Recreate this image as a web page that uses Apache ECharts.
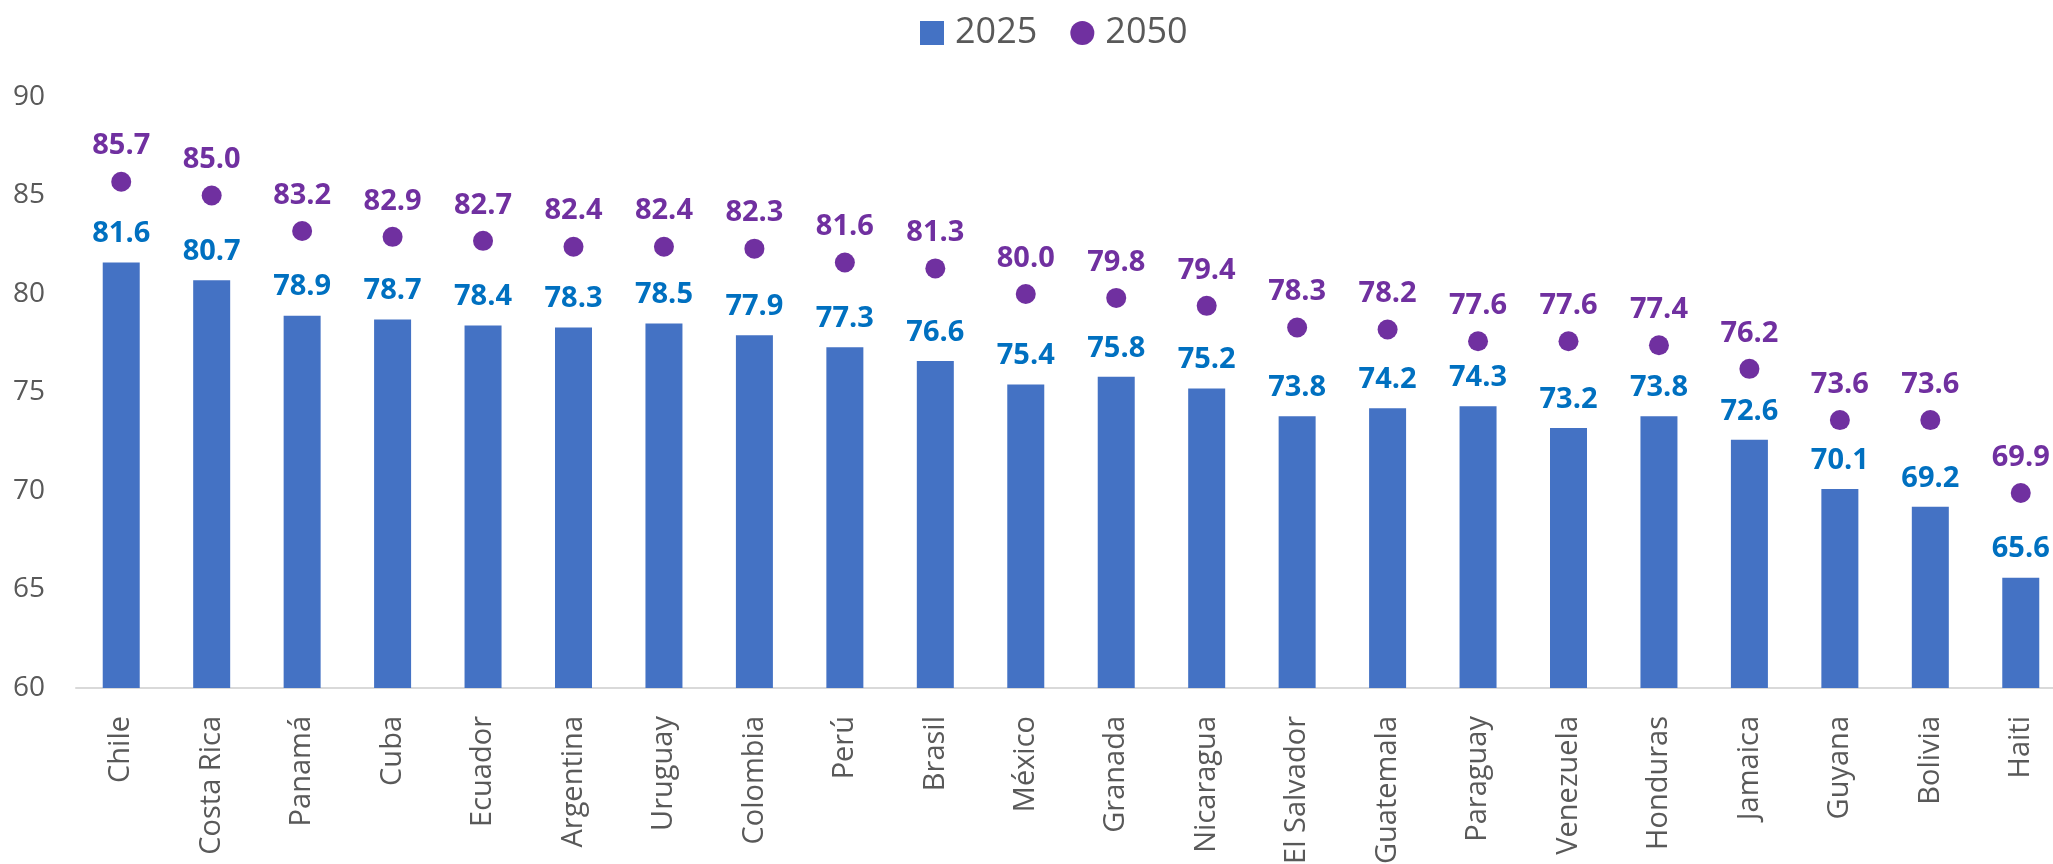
<!DOCTYPE html>
<html>
<head>
<meta charset="utf-8">
<script src="https://cdn.jsdelivr.net/npm/echarts@6/dist/echarts.min.js"></script>
<style>
html,body{margin:0;padding:0;background:#fff;}
#myChart{width:2053px;height:864px;}
</style>
</head>
<body>
<div id="myChart"></div>
<script>
// esperanza de vida al nacer
var paises = ['Chile','Costa Rica','Panamá','Cuba','Ecuador','Argentina','Uruguay','Colombia','Perú','Brasil','México','Granada','Nicaragua','El Salvador','Guatemala','Paraguay','Venezuela','Honduras','Jamaica','Guyana','Bolivia','Haiti'];
var datos2025 = [81.6,80.7,78.9,78.7,78.4,78.3,78.5,77.9,77.3,76.6,75.4,75.8,75.2,73.8,74.2,74.3,73.2,73.8,72.6,70.1,69.2,65.6];
var datos2050 = [85.7,85.0,83.2,82.9,82.7,82.4,82.4,82.3,81.6,81.3,80.0,79.8,79.4,78.3,78.2,77.6,77.6,77.4,76.2,73.6,73.6,69.9];

var fuente = "'Open Sans', 'Noto Sans', sans-serif";
var gris = '#595959';

var myChart = echarts.init(document.getElementById('myChart'));
var option = {
	animation: false,
	textStyle: {
		fontFamily: fuente
	},
	legend: {
		left: 915,
		top: 10,
		itemWidth: 24,
		itemHeight: 24,
		itemGap: 33,
		textStyle: {
			color: gris,
			fontSize: 36,
			fontFamily: fuente,
			padding: [0, 0, 0, 6]
		},
		data: [
			{name: '2025', icon: 'rect'},
			{name: '2050', icon: 'circle'}
		]
	},
	grid: {
		left: 76,
		right: -13,
		top: 97,
		bottom: 176,
		outerBoundsMode: 'none'   // no encoger el área del gráfico
	},
	xAxis: [{
		type: 'category',
		data: paises,
		axisTick: {
			show: false
		},
		axisLine: {
			lineStyle: {color: '#D9D9D9', width: 2}
		},
		axisLabel: {
			rotate: 90,
			margin: 28,
			interval: 0,
			color: gris,
			fontSize: 29,
			fontFamily: fuente
		}
	}],
	yAxis: [{
		type: 'value',
		min: 60,
		max: 90,
		interval: 5,
		axisLine: {show: false},
		axisTick: {show: false},
		splitLine: {show: false},
		axisLabel: {
			margin: 31,
			color: gris,
			fontSize: 28,
			fontFamily: fuente
		}
	}],
	series: [{
		name: '2025',
		type: 'bar',
		barWidth: 37,
		data: datos2025,
		itemStyle: {color: '#4472C4'},
		label: {
			show: true,
			position: 'top',
			distance: 14,
			color: '#0070C0',
			fontWeight: 'bold',
			fontSize: 29,
			fontFamily: fuente,
			formatter: function (p) { return p.value.toFixed(1); }
		}
	}, {
		name: '2050',
		type: 'scatter',
		symbol: 'circle',
		symbolSize: 20,
		data: datos2050,
		itemStyle: {color: '#7030A0', opacity: 1},
		label: {
			show: true,
			position: 'top',
			distance: 11,
			color: '#7030A0',
			fontWeight: 'bold',
			fontSize: 29,
			fontFamily: fuente,
			formatter: function (p) { return p.value.toFixed(1); }
		}
	}]
};
myChart.setOption(option);
</script>
</body>
</html>
